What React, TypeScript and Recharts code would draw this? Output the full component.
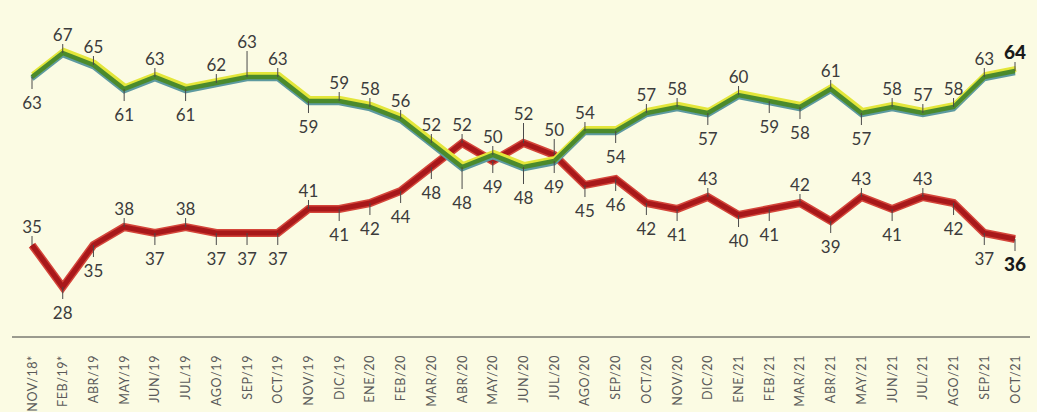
import React from 'react';
import { LineChart, Line, XAxis, YAxis } from 'recharts';

const categories = [
  'NOV/18*', 'FEB/19*', 'ABR/19', 'MAY/19', 'JUN/19', 'JUL/19', 'AGO/19', 'SEP/19', 'OCT/19',
  'NOV/19', 'DIC/19', 'ENE/20', 'FEB/20', 'MAR/20', 'ABR/20', 'MAY/20', 'JUN/20', 'JUL/20',
  'AGO/20', 'SEP/20', 'OCT/20', 'NOV/20', 'DIC/20', 'ENE/21', 'FEB/21', 'MAR/21', 'ABR/21',
  'MAY/21', 'JUN/21', 'JUL/21', 'AGO/21', 'SEP/21', 'OCT/21',
];

const greenValues = [
  63, 67, 65, 61, 63, 61, 62, 63, 63, 59, 59, 58, 56, 52, 48, 50, 48, 49,
  54, 54, 57, 58, 57, 60, 59, 58, 61, 57, 58, 57, 58, 63, 64,
];

const redValues = [
  35, 28, 35, 38, 37, 38, 37, 37, 37, 41, 41, 42, 44, 48, 52, 49, 52, 50,
  45, 46, 42, 41, 43, 40, 41, 42, 39, 43, 41, 43, 42, 37, 36,
];

// label placement (1 = above the line, -1 = below)
const greenSide = [
  -1, 1, 1, -1, 1, -1, 1, 1, 1, -1, 1, 1, 1, 1, -1, 1, -1, -1,
  1, -1, 1, 1, -1, 1, -1, -1, 1, -1, 1, 1, 1, 1, 1,
];
const redSide = [
  1, -1, -1, 1, -1, 1, -1, -1, -1, 1, -1, -1, -1, -1, 1, -1, 1, 1,
  -1, -1, -1, -1, 1, -1, -1, 1, -1, 1, -1, 1, -1, -1, -1,
];
const greenLongTicks: Record<number, number> = { 7: 26, 14: 22, 16: 17 };
const redLongTicks: Record<number, number> = { 16: 20, 17: 16 };

const data = categories.map((c, i) => ({ cat: c, green: greenValues[i], red: redValues[i] }));

const BG = '#fbfbe3';
const LABEL_FONT = 'Lato, "DejaVu Sans", sans-serif';
const Y_MIN = 19.67;
const Y_MAX = 73.67;

function makeLabel(sides: number[], longTicks: Record<number, number>) {
  return (props: any) => {
    const { x, y, value, index } = props;
    if (x == null || y == null) return null;
    const side = sides[index];
    const last = index === categories.length - 1;
    const len = longTicks[index] ?? (side > 0 ? 9 : 12);
    const y2 = side > 0 ? y - len : y + len;
    const ty = side > 0 ? y - len - 3 : y + len + 20;
    return (
      <g key={`lbl-${index}`}>
        <line x1={x} y1={y} x2={x} y2={y2} stroke="#4a4a4a" strokeWidth={1} />
        <text
          x={x}
          y={ty}
          textAnchor="middle"
          fontFamily={LABEL_FONT}
          fontSize={last ? 19 : 17}
          fontWeight={last ? 900 : 400}
          fill={last ? '#1a1a1a' : '#3c3c3c'}
        >
          {value}
        </text>
      </g>
    );
  };
}

const XTick = (props: any) => {
  const { x, y, payload } = props;
  return (
    <text
      x={0}
      y={0}
      transform={`translate(${x + 4.5},${y + 10}) rotate(-90)`}
      textAnchor="end"
      fontFamily={LABEL_FONT}
      fontSize={12.5}
      letterSpacing={0.6}
      fill="#5a5a5a"
    >
      {payload.value}
    </text>
  );
};

export default function App() {
  return (
    <div style={{ position: 'absolute', left: 0, top: 0, width: 1037, height: 412, background: BG }}>
      <LineChart
        width={1037}
        height={412}
        data={data}
        margin={{ top: 13, right: 7, left: 12, bottom: 0 }}
      >
        <XAxis
          dataKey="cat"
          interval={0}
          height={75}
          padding={{ left: 20, right: 15 }}
          tickLine={false}
          axisLine={{ stroke: '#3a3a3a', strokeWidth: 1 }}
          tick={<XTick />}
        />
        <XAxis xAxisId="shift" dataKey="cat" hide padding={{ left: 21, right: 14 }} />
        <YAxis yAxisId="main" hide domain={[Y_MIN, Y_MAX]} />
        <YAxis yAxisId="hi" hide domain={[Y_MIN - 0.35, Y_MAX - 0.35]} />
        <YAxis yAxisId="lo" hide domain={[Y_MIN + 0.3, Y_MAX + 0.3]} />

        {/* red line */}
        <Line
          yAxisId="main"
          dataKey="red"
          stroke="#d4453a"
          strokeWidth={8}
          dot={false}
          activeDot={false}
          isAnimationActive={false}
          strokeLinejoin="miter"
        />
        <Line
          yAxisId="main"
          dataKey="red"
          stroke="#a8181a"
          strokeWidth={5}
          dot={false}
          activeDot={false}
          isAnimationActive={false}
          strokeLinejoin="miter"
          label={makeLabel(redSide, redLongTicks)}
        />

        {/* green line with yellow highlight */}
        <Line
          yAxisId="lo"
          dataKey="green"
          stroke="#5d9aa0"
          strokeWidth={5}
          dot={false}
          activeDot={false}
          isAnimationActive={false}
          strokeLinejoin="miter"
        />
        <Line
          yAxisId="hi"
          xAxisId="shift"
          dataKey="green"
          stroke="#e3e63a"
          strokeWidth={6}
          dot={false}
          activeDot={false}
          isAnimationActive={false}
          strokeLinejoin="miter"
        />
        <Line
          yAxisId="main"
          dataKey="green"
          stroke="#4b8a2c"
          strokeWidth={4.5}
          dot={false}
          activeDot={false}
          isAnimationActive={false}
          strokeLinejoin="miter"
          label={makeLabel(greenSide, greenLongTicks)}
        />
      </LineChart>
    </div>
  );
}
